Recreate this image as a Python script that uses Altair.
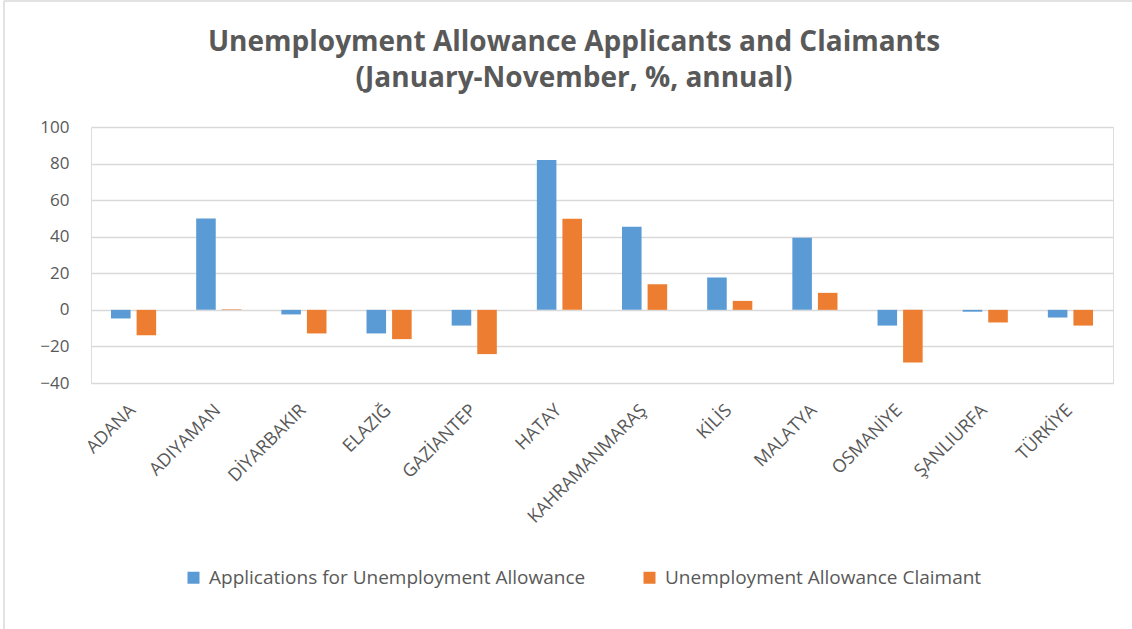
import altair as alt
import pandas as pd

categories = ["ADANA", "ADIYAMAN", "DİYARBAKIR", "ELAZIĞ", "GAZİANTEP", "HATAY",
              "KAHRAMANMARAŞ", "KİLİS", "MALATYA", "OSMANİYE", "ŞANLIURFA", "TÜRKİYE"]
applications = [-4.7, 50.0, -2.5, -12.9, -8.6, 82.0, 45.4, 17.7, 39.4, -8.6, -1.0, -4.2]
claimants = [-13.9, 0.3, -12.9, -16.0, -24.2, 49.8, 14.0, 4.9, 9.3, -28.8, -6.9, -8.6]
series_names = ["Applications for Unemployment Allowance", "Unemployment Allowance Claimant"]
series_colors = ["#5B9BD5", "#ED7D31"]
y_ticks = [-40, -20, 0, 20, 40, 60, 80, 100]
title_line1 = "Unemployment Allowance Applicants and Claimants"
title_line2 = "(January-November, %, annual)"

rows = []
for c, a, b in zip(categories, applications, claimants):
    rows.append({"region": c, "series": series_names[0], "value": a})
    rows.append({"region": c, "series": series_names[1], "value": b})
df = pd.DataFrame(rows)

TEXT = "#595959"
FONT = "Open Sans"

bars = alt.Chart(df).mark_bar().encode(
    x=alt.X("region:N", sort=categories, title=None,
            scale=alt.Scale(paddingInner=0.47, paddingOuter=0.235),
            axis=alt.Axis(labelAngle=-45, labelFontSize=18, labelFont=FONT, labelColor=TEXT,
                          ticks=False, domain=False, grid=False, labelPadding=18,
                          labelOffset=-7, labelLimit=0)),
    xOffset=alt.XOffset("series:N", sort=series_names,
                        scale=alt.Scale(paddingInner=0.235, paddingOuter=0)),
    y=alt.Y("value:Q", title=None,
            scale=alt.Scale(domain=[-40, 100], nice=False, zero=False),
            axis=alt.Axis(values=y_ticks, labelFontSize=17, labelFont=FONT, labelColor=TEXT,
                          ticks=False, domain=False, grid=True, gridColor="#D9D9D9",
                          gridWidth=1.5, labelPadding=22)),
    color=alt.Color("series:N", sort=series_names,
                    scale=alt.Scale(domain=series_names, range=series_colors),
                    legend=alt.Legend(title=None, orient="none", direction="horizontal",
                                      legendX=93, legendY=441, symbolType="square",
                                      symbolSize=144, symbolStrokeWidth=0,
                                      labelFontSize=19, labelFont=FONT, labelColor=TEXT,
                                      labelOffset=6, columnPadding=54, labelLimit=0)),
)

frame = alt.Data(values=[{"k": 1}])
left_border = alt.Chart(frame).mark_rule(color="#D9D9D9", strokeWidth=1.5).encode(
    x=alt.value(-87), y=alt.value(-126), y2=alt.value(502))
top_border = alt.Chart(frame).mark_rule(color="#D9D9D9", strokeWidth=1.5).encode(
    x=alt.value(-87), x2=alt.value(1041), y=alt.value(-126))

title1 = alt.Chart(frame).mark_text(
    font=FONT, fontSize=28, fontWeight="bold", color=TEXT, align="center", baseline="alphabetic"
).encode(x=alt.value(483), y=alt.value(-76), text=alt.value(title_line1))
title2 = alt.Chart(frame).mark_text(
    font=FONT, fontSize=28, fontWeight="bold", color=TEXT, align="center", baseline="alphabetic"
).encode(x=alt.value(483), y=alt.value(-40), text=alt.value(title_line2))

chart = alt.layer(bars, left_border, top_border, title1, title2).properties(
    width=1022, height=256,
    autosize=alt.AutoSizeParams(type="none"),
    padding={"left": 91, "top": 127, "right": 19, "bottom": 246},
).configure_view(stroke=None).configure(background="white")

chart.save("out.html", embed_options={"renderer": "svg", "actions": False})
